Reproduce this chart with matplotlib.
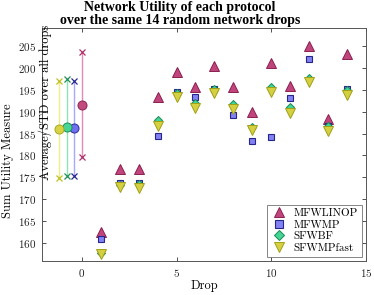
import matplotlib
matplotlib.use("Agg")
import matplotlib.pyplot as plt
import numpy as np

drops = [1, 2, 3, 4, 5, 6, 7, 8, 9, 10, 11, 12, 13, 14]
mfwlinop = [162.6, 177.0, 177.0, 193.2, 199.0, 195.5, 200.4, 195.5, 190.0, 201.0, 195.7, 205.0, 188.4, 203.0]
mfwmp = [160.9, 173.8, 173.8, 184.5, 194.5, 193.4, 195.1, 189.3, 183.2, 184.3, 193.0, 201.9, 186.6, 195.1]
sfwbf = [157.9, 173.3, 173.5, 188.0, 194.3, 191.9, 195.1, 191.7, 186.5, 195.5, 191.1, 197.6, 186.6, 194.9]
sfwmpfast = [157.5, 172.8, 172.6, 186.8, 193.2, 190.7, 194.2, 190.5, 185.7, 194.5, 189.6, 196.7, 185.6, 193.8]

# summary (average / std) markers
sum_pos = [0.0, -0.4, -0.8, -1.2]
sum_mean = [191.4, 186.2, 186.5, 186.0]
sum_hi = [203.5, 197.0, 197.4, 197.0]
sum_lo = [179.7, 175.4, 175.4, 174.9]

plt.rcParams['font.family'] = ['cmr10', 'DejaVu Serif']
plt.rcParams['axes.formatter.use_mathtext'] = True
plt.rcParams['mathtext.fontset'] = 'cm'

fig = plt.figure(figsize=(3.74, 2.95), dpi=100)
ax = fig.add_axes([42/374, 1 - 261/295, (366-42)/374, (261-28)/295])

line_cols = ['#e58ab8', '#a8a8ff', '#8fe3b8', '#eeee88']
x_cols = ['#b0306a', '#262690', '#20905a', '#c0c020']
dot_cols = ['#c24a7e', '#6f6ff2', '#45d697', '#d6d445']
dot_edge = ['#8b2455', '#2a2a9a', '#1f8a58', '#a8a820']
for p, m, hi, lo, lc, xc, dc, de in zip(sum_pos, sum_mean, sum_hi, sum_lo, line_cols, x_cols, dot_cols, dot_edge):
    ax.plot([p, p], [lo, hi], color=lc, lw=1.0, zorder=2)
    ax.plot([p, p], [lo, hi], ls='none', marker='x', ms=5, mew=0.9, color=xc, zorder=3)
    ax.plot([p], [m], ls='none', marker='o', ms=6.5, mfc=dc, mec=de, mew=0.7, zorder=4)

ax.plot(drops, mfwlinop, ls='none', marker='^', ms=6.5, mfc='#c0457c', mec='#8a1f4e', mew=0.7, label='MFWLINOP', zorder=5)
ax.plot(drops, mfwmp, ls='none', marker='s', ms=4.8, mfc='#8282f2', mec='#25258a', mew=0.8, label='MFWMP', zorder=5)
ax.plot(drops, sfwbf, ls='none', marker='D', ms=4.5, mfc='#44d494', mec='#188a55', mew=0.7, label='SFWBF', zorder=5)
ax.plot(drops, sfwmpfast, ls='none', marker='v', ms=6.5, mfc='#d4d040', mec='#a0a018', mew=0.7, label='SFWMPfast', zorder=6)

ax.set_xlim(-2.1, 15)
ax.set_ylim(156.0, 209)
ax.set_xticks([0, 5, 10, 15])
ax.set_yticks(np.arange(160, 206, 5))
ax.tick_params(direction='in', length=3, width=0.6, top=True, right=True, labelsize=8, colors='#333333', labelcolor='#222222', pad=4)
for s in ax.spines.values():
    s.set_color('#555555')
    s.set_linewidth(0.7)

ax.set_xlabel('Drop', fontsize=9, labelpad=1)
ax.set_ylabel('Sum Utility Measure', fontsize=9)
ax.yaxis.set_label_coords(-0.085, 0.43)
ax.set_title('Network Utility of each protocol\nover the same 14 random network drops',
             fontsize=10, fontweight='bold', family=['Liberation Serif'], linespacing=0.95, pad=3, x=0.425)
fig.text(45/374, 1 - 25/295, 'Average/STD over all drops', rotation=90, ha='center', va='top', fontsize=9)

leg = ax.legend(loc='lower right', fontsize=8, frameon=True, fancybox=False, edgecolor='#666666',
                handletextpad=0.6, borderpad=0.35, labelspacing=0.15, handlelength=1.4, borderaxespad=0.4,
                markerscale=1.2)
leg.get_frame().set_linewidth(0.7)

fig.savefig('out.png', dpi=100)
